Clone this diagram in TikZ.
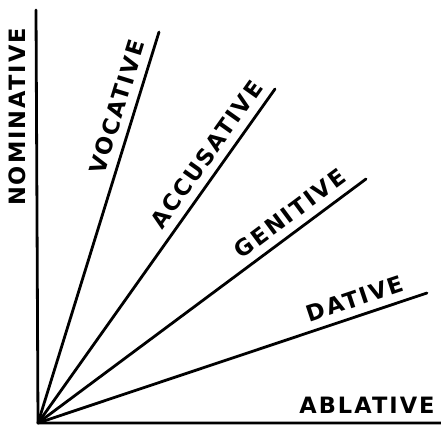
\documentclass[tikz,border=0pt]{standalone}
\usepackage{fontspec}
\setmainfont{DejaVu Sans}
\newfontfamily\casefont[LetterSpace=9]{DejaVu Sans}
\usetikzlibrary{positioning}

\begin{document}
\begin{tikzpicture}[x=1pt,y=1pt,
  caselabel/.style={font=\casefont\bfseries\fontsize{22.5}{26}\selectfont, inner sep=2pt},
  ray/.style={line width=2.8pt, line cap=round, line join=round}]
  \useasboundingbox (0,0) rectangle (441,427);
  \coordinate (O) at (38,4);
  \coordinate (top) at (36,417);
  \coordinate (right) at (441,4);
  \draw[ray] (top) -- (O) -- (right);
  \node[caselabel, rotate=90] (nom) at (17,310) {NOMINATIVE};
  \node[caselabel] (abl) at (367,22) {ABLATIVE};
  \foreach \name/\x/\y/\lab/\p in {voc/159/395/VOCATIVE/0.795,acc/275/338/ACCUSATIVE/0.773,gen/366/248/GENITIVE/0.80,dat/427/134/DATIVE/0.829} {
    \coordinate (\name) at (\x,\y);
    \draw[ray] (O) -- (\name) node[caselabel, pos=\p, sloped, above=6pt] (\name-lab) {\lab};
  }
\end{tikzpicture}
\end{document}
